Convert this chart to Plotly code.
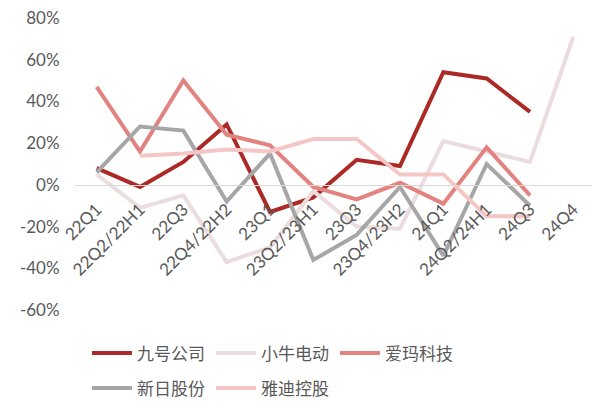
import plotly.graph_objects as go

# categorias (trimestres)
quarters = ['22Q1', '22Q2/22H1', '22Q3', '22Q4/22H2', '23Q1', '23Q2/23H1',
            '23Q3', '23Q4/23H2', '24Q1', '24Q2/24H1', '24Q3', '24Q4']

# valores (%)
ninebot = [8, -1, 11, 29, -13, -6, 12, 9, 54, 51, 35, None]
niu = [5, -11, -5, -37, -30, -3, -20, -21, 21, 16, 11, 71]
aima = [47, 16, 50, 24, 19, -1, -7, 1, -9, 18, -5, None]
xinri = [6, 28, 26, -8, 15, -36, -24, -1, -34, 10, -10, None]
yadea = [None, 14, 15, 17, 16, 22, 22, 5, 5, -15, -15, None]

y_ticks = [80, 60, 40, 20, 0, -20, -40, -60]
y_tick_text = ['80%', '60%', '40%', '20%', '0%', '-20%', '-40%', '-60%']

font_fam = 'Lato, Noto Sans CJK SC, sans-serif'
txt_color = '#595959'
y_min, y_max = -60, 80

series = [
    ('九号公司', ninebot, '#AB2A25', 'legend'),
    ('小牛电动', niu, '#EBDCDD', 'legend'),
    ('爱玛科技', aima, '#E3837F', 'legend'),
    ('新日股份', xinri, '#A6A6A6', 'legend2'),
    ('雅迪控股', yadea, '#F4C6C5', 'legend2'),
]

fig = go.Figure()

# desenhando as linhas
for name, vals, color, leg in series:
    fig.add_trace(go.Scatter(x=quarters, y=vals, mode='lines', name=name,
                             line=dict(color=color, width=4),
                             connectgaps=False, legend=leg))

# eixo x cruzando em 0%
zero_pos = (0 - y_min) / (y_max - y_min)

fig.update_layout(
    width=600, height=409,
    margin=dict(l=67, r=13, t=10, b=98),
    plot_bgcolor='white', paper_bgcolor='white',
    font=dict(family=font_fam, size=15, color=txt_color),
    xaxis=dict(type='category', anchor='free', position=zero_pos,
               range=[-0.5, len(quarters) - 0.5],
               showline=True, linecolor='#D9D9D9', linewidth=1,
               showgrid=False, tickangle=-45,
               ticks='outside', ticklen=7, tickcolor='rgba(0,0,0,0)',
               tickfont=dict(size=17, color=txt_color), automargin=False),
    yaxis=dict(range=[y_min, y_max], tickvals=y_ticks, ticktext=y_tick_text,
               showgrid=False, zeroline=False, showline=False,
               ticks='outside', ticklen=11, tickcolor='rgba(0,0,0,0)',
               ticklabeloverflow='allow',
               tickfont=dict(size=17, color=txt_color), automargin=False),
    legend=dict(orientation='h', x=0.023, xanchor='left', y=-0.149, yanchor='middle',
                entrywidth=69, font=dict(size=17, color=txt_color),
                itemwidth=40, tracegroupgap=0),
    legend2=dict(orientation='h', x=0.023, xanchor='left', y=-0.269, yanchor='middle',
                 entrywidth=69, font=dict(size=17, color=txt_color),
                 itemwidth=40, tracegroupgap=0),
)

fig.write_html('out.html')
